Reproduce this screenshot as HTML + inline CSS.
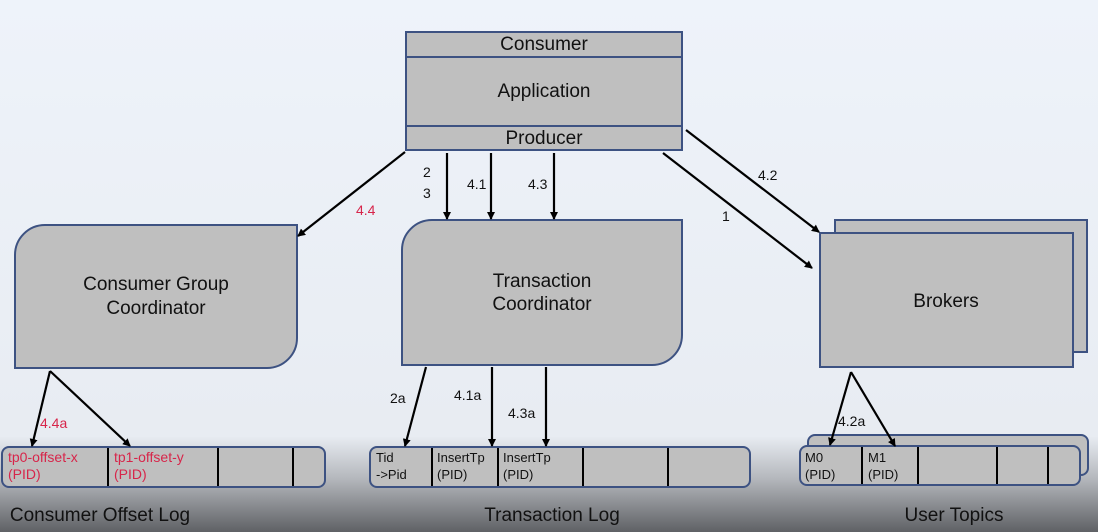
<!DOCTYPE html>
<html><head><meta charset="utf-8"><style>
html,body{margin:0;padding:0;width:1098px;height:532px;overflow:hidden;background:#eef3fa}
svg{display:block}
text{font-family:"Liberation Sans",sans-serif}
</style></head><body>
<svg width="1098" height="532" viewBox="0 0 1098 532" xmlns="http://www.w3.org/2000/svg">
<defs>
<linearGradient id="bg" x1="0" y1="0" x2="0" y2="1">
<stop offset="0" stop-color="#eef3fa"/>
<stop offset="0.82" stop-color="#e8ecf2"/>
<stop offset="0.9" stop-color="#b4b7bc"/>
<stop offset="1" stop-color="#5f6165"/>
</linearGradient>
<marker id="ah" markerWidth="8" markerHeight="8" refX="7" refY="4" orient="auto" markerUnits="userSpaceOnUse">
<path d="M0,0 L8,4 L0,8 z" fill="#000"/></marker>
</defs>
<rect width="1098" height="532" fill="url(#bg)"/>
<g fill="#bfbfbf" stroke="#3d5282" stroke-width="2">
<!-- app -->
<rect x="406" y="32" width="276" height="118"/>
<line x1="406" y1="57" x2="682" y2="57"/>
<line x1="406" y1="126" x2="682" y2="126"/>
<!-- CGC -->
<path d="M45,225 H297 V338 A30,30 0 0 1 267,368 H15 V255 A30,30 0 0 1 45,225 Z"/>
<!-- TC -->
<path d="M432,220 H682 V335 A30,30 0 0 1 652,365 H402 V250 A30,30 0 0 1 432,220 Z"/>
<!-- brokers -->
<rect x="835" y="220" width="252" height="132"/>
<rect x="820" y="233" width="253" height="134"/>
<!-- logs -->
<rect x="2" y="447" width="323" height="40" rx="7"/>
<rect x="370" y="447" width="380" height="40" rx="7"/>
<rect x="808" y="435" width="280" height="40" rx="7"/>
<rect x="800" y="446" width="280" height="39" rx="7"/>
</g>
<g stroke="#000" stroke-width="2">
<line x1="108" y1="448" x2="108" y2="486"/><line x1="218" y1="448" x2="218" y2="486"/><line x1="293" y1="448" x2="293" y2="486"/>
<line x1="432" y1="448" x2="432" y2="486"/><line x1="498" y1="448" x2="498" y2="486"/><line x1="583" y1="448" x2="583" y2="486"/><line x1="668" y1="448" x2="668" y2="486"/>
<line x1="862" y1="447" x2="862" y2="484"/><line x1="918" y1="447" x2="918" y2="484"/><line x1="997" y1="447" x2="997" y2="484"/><line x1="1048" y1="447" x2="1048" y2="484"/>
</g>
<g stroke="#000" stroke-width="2.2" marker-end="url(#ah)">
<line x1="405" y1="152" x2="298" y2="236"/>
<line x1="447" y1="153" x2="447" y2="219"/>
<line x1="491" y1="153" x2="491" y2="219"/>
<line x1="554" y1="153" x2="554" y2="219"/>
<line x1="686" y1="130" x2="819" y2="232"/>
<line x1="663" y1="153" x2="812" y2="268"/>
<line x1="50" y1="371" x2="32" y2="446"/>
<line x1="50" y1="371" x2="130" y2="446"/>
<line x1="426" y1="367" x2="405" y2="446"/>
<line x1="492" y1="367" x2="492" y2="446"/>
<line x1="546" y1="367" x2="546" y2="446"/>
<line x1="851" y1="372" x2="830" y2="445"/>
<line x1="851" y1="372" x2="895" y2="446"/>
</g>
<g font-size="19" fill="#111" text-anchor="middle">
<text x="544" y="50">Consumer</text>
<text x="544" y="97">Application</text>
<text x="544" y="144">Producer</text>
<text x="156" y="290">Consumer Group</text>
<text x="156" y="314">Coordinator</text>
<text x="542" y="287">Transaction</text>
<text x="542" y="310">Coordinator</text>
<text x="946" y="307">Brokers</text>
<text x="100" y="521">Consumer Offset Log</text>
<text x="552" y="521">Transaction Log</text>
<text x="954" y="521">User Topics</text>
</g>
<g font-size="14" fill="#111">
<text x="423" y="177">2</text><text x="423" y="198">3</text>
<text x="467" y="189">4.1</text>
<text x="528" y="189">4.3</text>
<text x="758" y="180">4.2</text>
<text x="722" y="221">1</text>
<text x="390" y="403">2a</text>
<text x="454" y="400">4.1a</text>
<text x="508" y="418">4.3a</text>
<text x="838" y="426">4.2a</text>
</g>
<g font-size="14" fill="#d7254a">
<text x="356" y="215">4.4</text>
<text x="40" y="428">4.4a</text>
<text x="8" y="462">tp0-offset-x</text><text x="8" y="479">(PID)</text>
<text x="114" y="462">tp1-offset-y</text><text x="114" y="479">(PID)</text>
</g>
<g font-size="13" fill="#111">
<text x="376" y="462">Tid</text><text x="376" y="479">-&gt;Pid</text>
<text x="437" y="462">InsertTp</text><text x="437" y="479">(PID)</text>
<text x="503" y="462">InsertTp</text><text x="503" y="479">(PID)</text>
<text x="805" y="462">M0</text><text x="805" y="479">(PID)</text>
<text x="868" y="462">M1</text><text x="868" y="479">(PID)</text>
</g>
</svg>
</body></html>
